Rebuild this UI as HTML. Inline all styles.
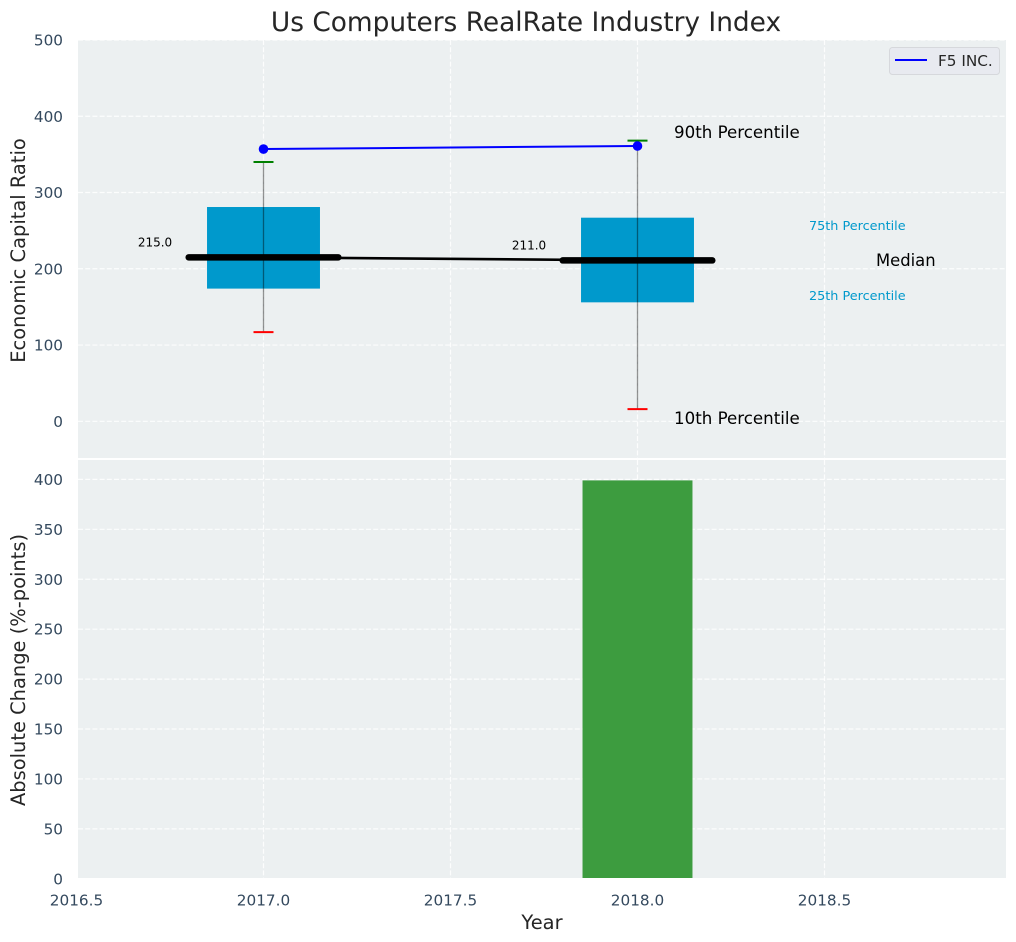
<!DOCTYPE html>
<html lang="en">
<head>
<meta charset="utf-8">
<title>Us Computers RealRate Industry Index</title>
<style>
html,body{margin:0;padding:0;background:#fff;width:1016px;height:942px;overflow:hidden}
svg{display:block}
text{font-family:"DejaVu Sans","Liberation Sans",sans-serif}
</style>
</head>
<body>
<svg id="chart" xmlns="http://www.w3.org/2000/svg" width="1016" height="942" viewBox="0 0 1016 942"></svg>
<script>
const years = [2017, 2018];
const p90 = [340, 368];
const p75 = [281, 267];
const medians = [215, 211];
const p25 = [174, 156];
const p10 = [117, 16];
const companyValues = [357, 361];
const changeValues = [null, 399];
const medianLabels = ['215.0', '211.0'];
const xTicks = [2016.5, 2017.0, 2017.5, 2018.0, 2018.5];
const topTicks = [0, 100, 200, 300, 400, 500];
const bottomTicks = [0, 50, 100, 150, 200, 250, 300, 350, 400];

const svg = document.getElementById('chart');
const NS = 'http://www.w3.org/2000/svg';
const L = 78, R = 1006, T1 = 40, B1 = 458, T2 = 460, B2 = 878;
const X = v => 263.5 + (v - 2017) * 374;
const Y1 = v => 421.3 - v * 0.7626;
const Y2 = v => 878.8 - v * 0.9985;

function add(tag, attrs, text) {
  const e = document.createElementNS(NS, tag);
  for (const k in attrs) e.setAttribute(k, attrs[k]);
  if (text !== undefined) e.textContent = text;
  svg.appendChild(e);
  return e;
}
const GRID = {stroke: '#ffffff', 'stroke-opacity': 0.85, 'stroke-width': 1.2, 'stroke-dasharray': '5 2.2'};
const TICK = '#34495e';

let el = add('rect', {x: L, y: T1, width: R - L, height: B1 - T1, fill: '#ecf0f1'});


el = add('rect', {x: L, y: T2, width: R - L, height: B2 - T2, fill: '#ecf0f1'});



xTicks.forEach(t => {
  if (X(t) < L) return;
  el = add('line', {x1: X(t), x2: X(t), y1: T1, y2: B1, ...GRID});
  
  
  el = add('line', {x1: X(t), x2: X(t), y1: T2, y2: B2, ...GRID});
  
  
});
topTicks.forEach(t => {
  el = add('line', {x1: L, x2: R, y1: Y1(t), y2: Y1(t), ...GRID});
  
  
  el = add('text', {x: 63, y: Y1(t) + 5.5, 'text-anchor': 'end', 'font-size': 15.28, fill: TICK}, String(t));
  
  
});
bottomTicks.forEach(t => {
  el = add('line', {x1: L, x2: R, y1: Y2(t), y2: Y2(t), ...GRID});
  
  
  el = add('text', {x: 63, y: Y2(t) + 5.5, 'text-anchor': 'end', 'font-size': 15.28, fill: TICK}, String(t));
  
  
});
xTicks.forEach(t => {
  el = add('text', {x: X(t), y: 905.5, 'text-anchor': 'middle', 'font-size': 15.28, fill: TICK}, t.toFixed(1));
  
  
});

/* bottom bars */
years.forEach((yr, i) => {
  if (changeValues[i] === null) return;
  el = add('rect', {x: X(yr - 0.147), y: Y2(changeValues[i]), width: X(yr + 0.147) - X(yr - 0.147), height: B2 - Y2(changeValues[i]), fill: '#3d9c3f'});
  
  
});

/* boxes */
years.forEach((yr, i) => {
  el = add('rect', {x: X(yr - 0.151), y: Y1(p75[i]), width: X(yr + 0.151) - X(yr - 0.151), height: Y1(p25[i]) - Y1(p75[i]), fill: '#0099cc'});
  
  
});

/* median connector */
el = add('polyline', {points: years.map((yr, i) => X(yr) + ',' + Y1(medians[i])).join(' '), fill: 'none', stroke: '#000', 'stroke-width': 2.6});



/* whiskers */
years.forEach((yr, i) => {
  el = add('line', {x1: X(yr), x2: X(yr), y1: Y1(p90[i]), y2: Y1(p10[i]), stroke: '#000', 'stroke-opacity': 0.42, 'stroke-width': 1.3});
  
  
  el = add('line', {x1: X(yr) - 10, x2: X(yr) + 10, y1: Y1(p90[i]), y2: Y1(p90[i]), stroke: '#008000', 'stroke-width': 2});
  
  
  el = add('line', {x1: X(yr) - 10, x2: X(yr) + 10, y1: Y1(p10[i]), y2: Y1(p10[i]), stroke: '#ff0000', 'stroke-width': 2});
  
  
  el = add('line', {x1: X(yr - 0.2), x2: X(yr + 0.2), y1: Y1(medians[i]), y2: Y1(medians[i]), stroke: '#000', 'stroke-width': 6.5, 'stroke-linecap': 'round'});
  
  
  el = add('text', {x: X(yr) - 108.5, y: Y1(medians[i]) - 11, 'text-anchor': 'middle', 'font-size': 12, fill: '#000'}, medianLabels[i]);
  
  
});

/* company series */
el = add('polyline', {points: years.map((yr, i) => X(yr) + ',' + Y1(companyValues[i])).join(' '), fill: 'none', stroke: '#0000ff', 'stroke-width': 2});


years.forEach((yr, i) => {
  el = add('circle', {cx: X(yr), cy: Y1(companyValues[i]), r: 4.8, fill: '#0000ff'});
  
  
});

/* percentile annotations */
el = add('text', {x: 674, y: 138, 'font-size': 16.67, fill: '#000'}, '90th Percentile');


el = add('text', {x: 674, y: 424, 'font-size': 16.67, fill: '#000'}, '10th Percentile');


el = add('text', {x: 876, y: 266, 'font-size': 16.4, fill: '#000'}, 'Median');


el = add('text', {x: 809, y: 230, 'font-size': 12.8, fill: '#0099cc'}, '75th Percentile');


el = add('text', {x: 809, y: 300, 'font-size': 12.8, fill: '#0099cc'}, '25th Percentile');



/* legend */
el = add('rect', {x: 889.5, y: 47.5, width: 110, height: 27, rx: 3, fill: '#e8eaf0', stroke: '#d6d8dc', 'stroke-width': 1});


el = add('line', {x1: 895, x2: 927, y1: 60, y2: 60, stroke: '#0000ff', 'stroke-width': 2});


el = add('text', {x: 938, y: 66, 'font-size': 15.28, fill: '#262626'}, 'F5 INC.');



/* titles */
el = add('text', {x: 526, y: 31, 'text-anchor': 'middle', 'font-size': 26.4, fill: '#262626'}, 'Us Computers RealRate Industry Index');


el = add('text', {x: 542, y: 929, 'text-anchor': 'middle', 'font-size': 19.44, fill: '#262626'}, 'Year');


el = add('text', {transform: 'translate(25,250.5) rotate(-90)', 'text-anchor': 'middle', 'font-size': 19.44, fill: '#262626'}, 'Economic Capital Ratio');


el = add('text', {transform: 'translate(25,670) rotate(-90)', 'text-anchor': 'middle', 'font-size': 19.44, fill: '#262626'}, 'Absolute Change (%-points)');


</script>
</body>
</html>
